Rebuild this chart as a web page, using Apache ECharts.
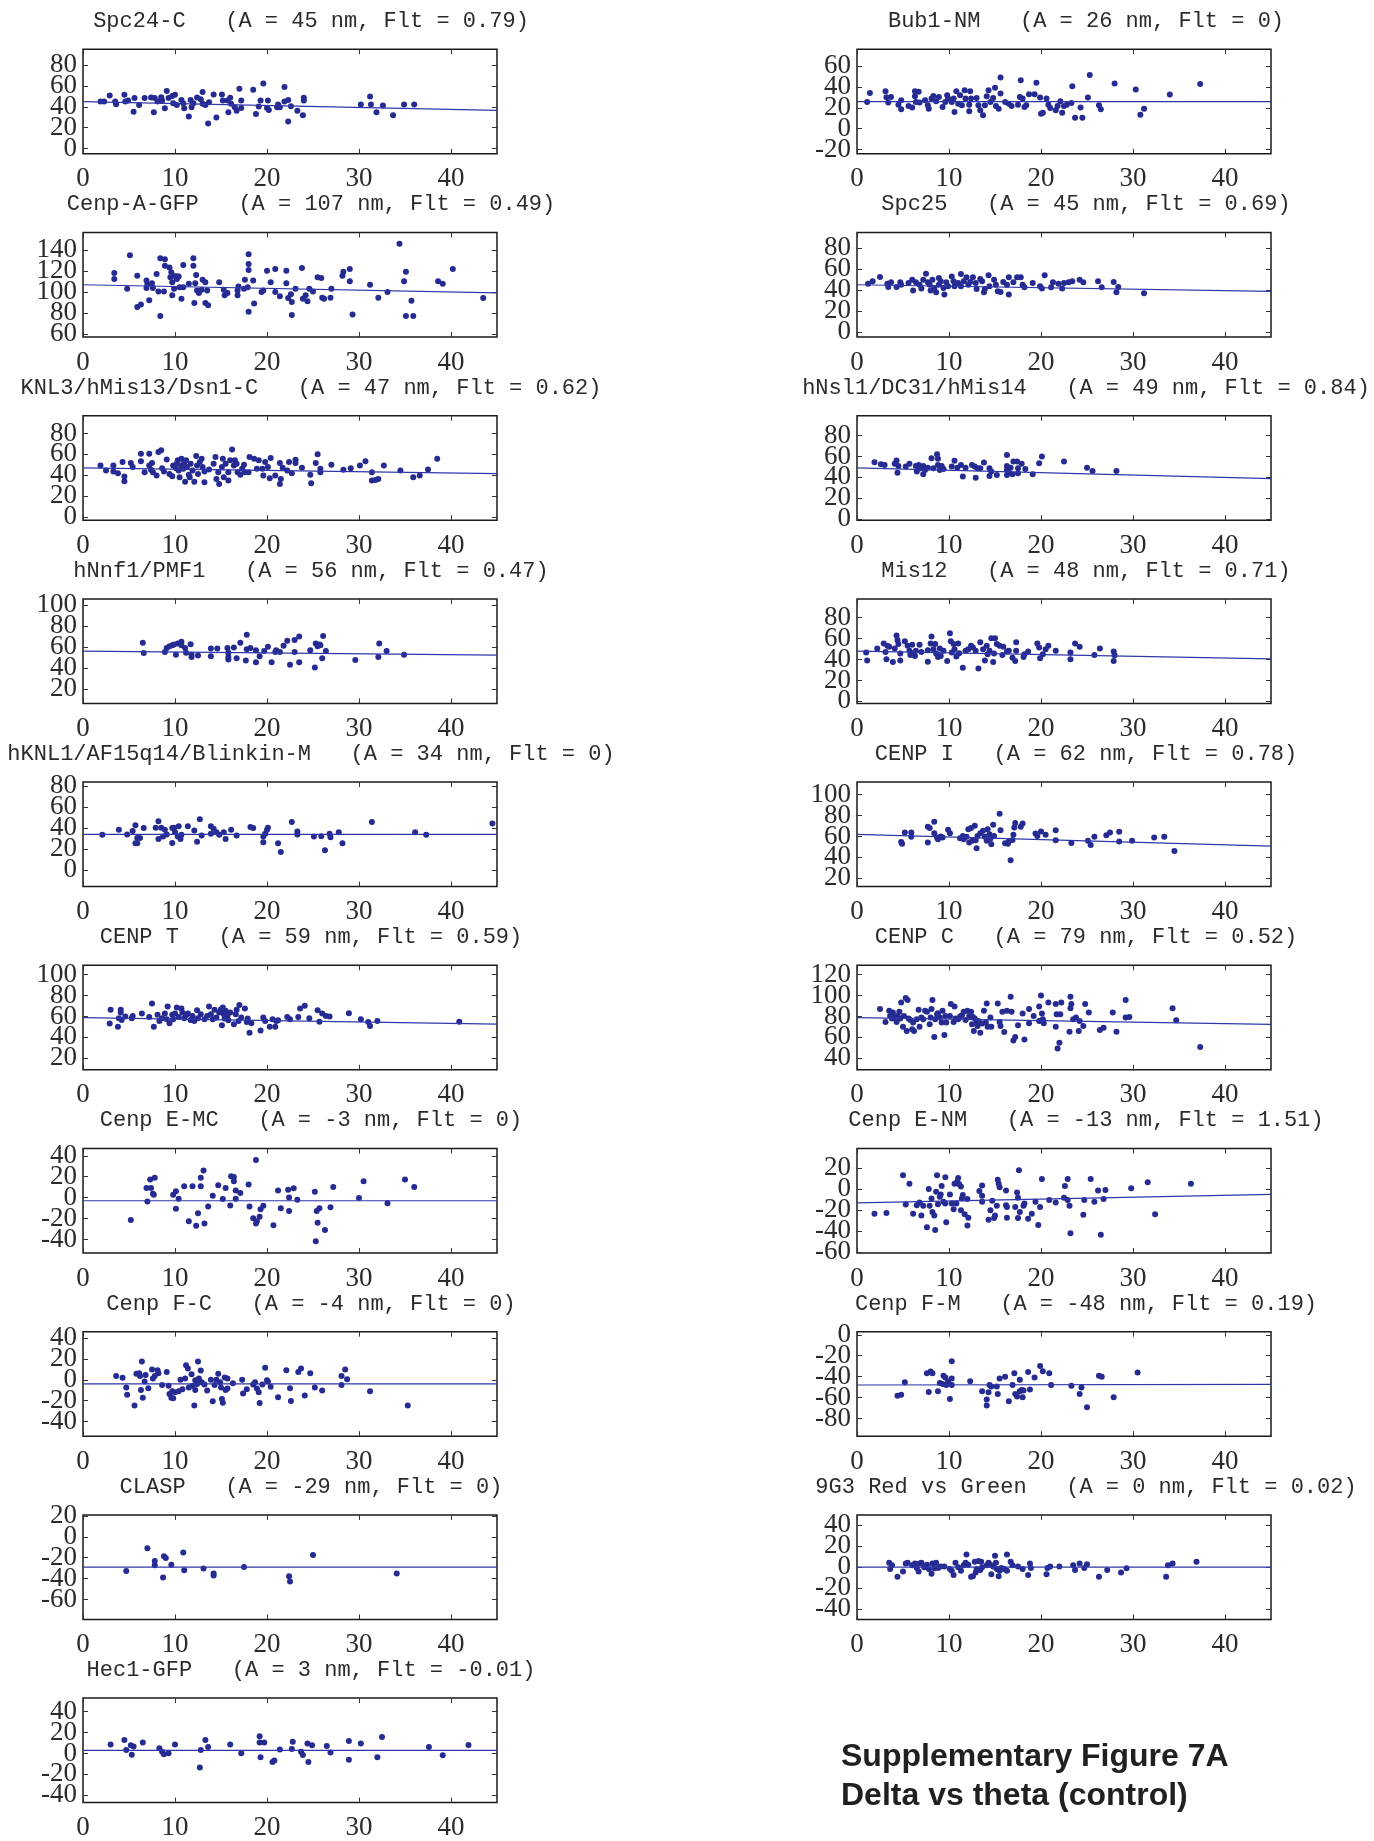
<!DOCTYPE html>
<html>
<head>
<meta charset="utf-8">
<script src="https://cdn.jsdelivr.net/npm/echarts@6/dist/echarts.min.js"></script>
<style>
  html, body { margin: 0; padding: 0; background: #fff; }
  #chart { width: 1374px; height: 1841px; }
</style>
</head>
<body>
<div id="chart"></div>
<script>
// ---- panel data: [theta, delta] ----
const spc24C = [[1.9,45],[2.3,45],[2.9,50.8],[3.5,45],[3.6,42.4],[4.5,51.5],[4.6,45],[4.9,46],[5.5,35.3],[5.6,48.3],[6.1,41.8],[6.7,48.3],[7.4,48.9],[7.7,34.7],[7.8,48.3],[8.1,45],[8.5,49.2],[8.6,46],[8.9,38.5],[9.1,55.1],[9.3,48.3],[9.7,50.2],[10.0,51.5],[9.8,43.4],[10.2,41.8],[10.7,46.6],[10.9,43.4],[11.0,38.5],[11.5,30.8],[11.7,46.6],[11.8,39.5],[12.0,43.4],[12.4,48.9],[12.8,47.3],[13.0,54.1],[13.0,42.8],[13.3,41.8],[13.6,24],[13.7,44.4],[14.2,51.8],[14.5,29.8],[15.1,51.8],[15.2,46],[15.7,46],[15.8,34.7],[16.0,48.6],[16.1,42.8],[16.5,39.5],[16.7,36.3],[17.0,57.3],[17.2,46],[17.2,38.9],[18.5,56.4],[18.8,33],[19.1,40.2],[19.3,46],[19.6,62.2],[20.0,38.9],[20.1,46],[20.2,36.9],[21.1,39.5],[21.2,42.1],[21.4,39.5],[21.9,59],[21.9,45],[22.3,46.6],[22.3,25.9],[22.6,40.5],[23.3,36.3],[23.9,32],[24.0,48.6],[24.0,46],[30.2,42.1],[31.2,49.9],[31.3,42.1],[31.9,34.7],[32.6,41.2],[33.7,32],[34.9,42.1],[36.0,42.1]];
const cenpAGFP = [[3.4,118.3],[3.4,112.6],[4.8,103.1],[5.1,135.3],[5.9,115.7],[5.9,85.8],[6.3,88],[6.9,111],[6.9,104],[7.0,107.2],[7.2,92.1],[7.5,108.5],[7.6,104],[8.0,117.3],[8.2,100.6],[8.4,132.4],[8.4,77],[8.8,100.6],[8.9,131.5],[8.9,125.2],[9.4,123.6],[9.5,114.2],[9.6,118.9],[9.7,109.4],[9.7,96.9],[9.8,115.7],[9.9,103.1],[10.2,115.1],[10.2,112.6],[10.4,114.8],[10.5,104.7],[10.7,93.7],[10.9,104.7],[10.9,125.8],[11.5,107.9],[12.0,132.4],[12.0,125.2],[12.1,89.6],[12.2,108.5],[12.3,116.4],[12.4,101.6],[12.6,99],[12.9,102.2],[13.0,111.7],[13.3,109.4],[13.3,89.6],[13.5,101.6],[13.6,87.4],[14.8,109.4],[15.3,102.2],[15.4,96.9],[15.7,99],[16.8,96.9],[16.8,101.6],[16.9,105.4],[17.5,103.1],[17.6,111.7],[17.9,104.7],[18.0,136.2],[18.0,126.8],[18.0,121.1],[18.0,81.1],[18.5,111],[18.6,89],[19.4,100],[19.6,101.6],[20.0,120.5],[20.4,109.4],[20.9,122],[20.9,100],[21.4,95.9],[22.1,120.5],[22.1,108.5],[22.3,94.3],[22.6,97.8],[22.7,90.6],[22.7,78],[23.1,103.1],[23.8,123],[23.9,93.7],[24.2,96.9],[24.4,91.2],[24.6,103.1],[25.0,100.6],[25.5,114.2],[25.9,113.5],[26.0,94.6],[26.2,93.7],[27.0,103.1],[26.9,94.6],[28.2,115.7],[28.3,119.5],[29.0,122],[29.0,110.4],[29.3,78.6],[31.2,106.9],[32.1,94.6],[33.1,100],[34.4,146.3],[34.9,110.4],[35.1,119.5],[35.1,77],[35.7,91.8],[35.9,77],[38.6,110.4],[39.1,107.9],[40.2,122],[43.5,94.3]];
const knl3Dsn1C = [[1.9,49.4],[2.5,44.6],[3.3,49.4],[3.3,43.6],[3.8,42],[4.3,52.7],[4.5,38.8],[4.5,34.2],[5.2,51.7],[5.4,47.8],[6.3,60.7],[6.3,53.3],[6.7,42.9],[7.2,60.7],[7.2,49.4],[7.4,45.2],[7.5,51.7],[7.6,42.9],[8.0,39.7],[8.2,62.3],[8.5,64],[8.6,46.8],[8.8,43.6],[9.1,55.2],[9.4,41.3],[9.7,39],[9.8,49.4],[10.1,46.8],[10.2,51],[10.3,54.3],[10.4,44.6],[10.5,38.1],[10.7,55.9],[10.7,49.4],[10.9,46.2],[11.0,51.7],[11.1,33.9],[11.2,54.3],[11.3,47.8],[11.5,40.4],[11.6,38.1],[11.7,51],[11.9,44.6],[12.1,33.9],[12.3,58.5],[12.4,49.4],[12.5,41.3],[12.7,52.7],[12.9,55.9],[13.0,47.8],[13.2,33.2],[13.2,43.6],[13.7,45.5],[14.2,51],[14.4,57.5],[14.5,36.4],[14.7,42.9],[14.8,31.6],[15.1,47.8],[15.2,55.9],[15.3,38.1],[15.5,51],[15.8,34.9],[15.8,42.9],[16.0,54.3],[16.2,64.6],[16.4,49.4],[16.5,54.3],[16.7,51],[16.8,42.9],[17.1,40.4],[17.3,46.2],[17.5,50.1],[17.6,42.9],[18.0,42.9],[18.1,57.5],[18.6,55.9],[18.9,46.2],[19.1,54.3],[19.5,46.2],[19.6,39.7],[19.8,52.7],[20.1,47.8],[20.3,37.1],[20.4,56.5],[20.9,39.7],[21.4,51.7],[21.4,31.6],[21.5,36.4],[21.7,47.2],[22.2,44.6],[22.4,52.7],[22.7,42],[23.1,54.9],[23.1,51.7],[23.8,47.2],[24.7,40.4],[24.8,32.3],[25.3,51.7],[25.5,60.1],[25.8,46.2],[25.8,42.9],[27.0,50.1],[28.3,45.2],[29.1,46.8],[30.1,49.4],[30.7,53.3],[31.4,42.9],[31.4,34.9],[31.8,35.5],[32.1,36.4],[32.7,49.4],[34.5,44.6],[35.9,38.1],[36.6,39.7],[37.5,45.5],[38.5,55.9]];
const hNnf1PMF1 = [[6.5,64],[6.6,54.2],[8.9,55.2],[9.1,59.1],[9.4,60.8],[9.7,61.7],[9.9,62.4],[10.1,52.6],[10.3,63.4],[10.7,65],[10.7,61.7],[11.1,59.1],[11.2,54.5],[11.7,62.7],[11.8,52.6],[11.8,50.3],[12.5,51.9],[13.9,51.2],[13.9,58.5],[14.6,58.5],[15.7,59.1],[15.8,54.5],[15.8,50.3],[15.8,48],[16.4,59.5],[16.7,49.3],[17.1,64],[17.7,47],[17.8,71.6],[17.8,57.8],[18.2,59.1],[18.8,56.8],[18.8,45.3],[19.2,51.2],[19.7,56.2],[20.1,60.1],[20.5,45.3],[20.9,55.2],[21.0,56.8],[21.4,55.2],[21.8,61.1],[22.2,66],[22.5,43],[23.0,66.7],[23.0,55.2],[23.5,69.9],[23.5,45.3],[24.7,56.8],[25.2,40.4],[25.3,63.4],[25.5,60.8],[25.7,62.4],[25.8,61.7],[26.0,49.3],[26.1,70.6],[26.4,56.2],[29.6,47.6],[32.1,50.3],[32.2,63.4],[33.0,56.2],[34.9,52.6]];
const hKNL1Blinkin = [[2.1,33.5],[3.9,38.4],[4.8,33.9],[5.4,37.1],[5.7,42.6],[5.7,25.4],[5.9,25.4],[5.9,30.6],[6.2,30.6],[6.6,40],[7.9,40.4],[8.2,46.5],[8.2,29.6],[8.5,40.4],[8.7,31.9],[8.9,38.4],[9.1,33.9],[9.7,40],[9.7,25.7],[9.9,40.4],[10.0,36.1],[10.3,31.9],[10.4,41.7],[10.6,29.6],[10.7,33.5],[11.4,41.7],[12.1,37.8],[12.4,27],[12.7,48.5],[12.9,32.9],[13.9,41.7],[13.9,34.5],[14.2,39.4],[14.5,36.1],[14.8,33.5],[15.3,36.1],[15.5,29.6],[16.1,38.4],[16.7,32.9],[18.2,41],[18.5,40],[19.6,31.9],[19.8,34.5],[20.0,38.4],[20.1,40.4],[19.6,26.4],[21.2,25.4],[21.5,17.2],[22.7,45.9],[23.3,36.8],[23.3,33.9],[25.1,31.9],[25.9,32.3],[26.3,18.9],[26.8,34.5],[26.9,31.3],[27.8,36.1],[28.2,25.4],[31.4,45.9],[36.1,36.1],[37.3,33.5],[44.5,44.3]];
const cenpT = [[3.0,66.4],[2.9,53.2],[3.8,50.3],[3.9,58.4],[4.1,66.4],[4.1,63.8],[4.2,56.7],[4.6,60],[5.3,58.4],[5.4,60.6],[6.4,62.9],[7.2,59.6],[7.5,72.5],[7.7,50.3],[8.1,61.6],[8.3,55.8],[8.6,58.4],[8.9,62.9],[9.1,57.4],[9.2,69.6],[9.4,53.5],[9.7,61.6],[9.8,57.4],[10.0,62.9],[10.2,68.6],[10.4,59.6],[10.7,67.7],[10.8,63.8],[11.0,58.4],[11.2,61.3],[11.4,62.9],[11.7,56.7],[11.9,60.6],[12.1,55.8],[12.4,66.1],[12.5,58.4],[12.8,62.2],[13.2,57.4],[13.5,60.6],[13.7,69.6],[13.9,62.2],[14.1,57.4],[14.3,66.4],[14.5,59],[14.8,63.8],[15.0,67],[15.1,51.6],[15.2,68.6],[15.3,62.2],[15.4,58.1],[15.5,65.5],[15.7,60.6],[15.8,56.4],[16.0,63.8],[16.4,52.5],[16.6,62.2],[16.7,66.4],[16.9,55.8],[17.0,70.9],[17.2,59],[17.6,67.7],[17.8,54.8],[17.9,58.1],[18.1,44.5],[18.3,53.5],[19.3,46.7],[19.6,59],[19.8,55.8],[20.3,50.3],[20.6,57.4],[20.9,50.3],[21.0,55.8],[21.2,56.4],[22.2,59.6],[22.5,57.4],[23.4,59.6],[23.6,67.7],[24.1,70.3],[24.6,58.4],[25.5,66.1],[25.7,55.1],[26.0,62.9],[26.4,60.6],[26.8,60],[28.9,63.2],[30.2,57.4],[31.0,54.8],[31.2,50.9],[32.0,55.8],[40.9,55.1]];
const cenpEMC = [[5.2,-21.4],[6.9,9.3],[7.0,-3.6],[7.3,17.3],[7.4,9.3],[7.6,3.8],[7.7,2.8],[7.8,18.9],[9.8,2.8],[10.1,6],[10.1,-10.7],[10.4,-1.1],[11.0,10.9],[11.5,-22.5],[11.9,10.9],[12.3,-27],[12.5,-15],[12.8,10.9],[12.8,18.9],[13.1,26],[13.2,-24.7],[13.6,-8.5],[14.1,1.8],[14.7,11.8],[15.2,-1.4],[15.5,9.3],[16.0,-7.5],[16.1,20.5],[16.4,15.6],[16.4,19.8],[16.6,-1.1],[16.6,6.7],[17.1,4.4],[18.0,12.5],[18.1,-8.5],[18.5,-19.8],[18.8,-24.7],[18.8,36],[18.9,-22.5],[19.2,-18.3],[19.3,-11.2],[19.6,-7.8],[20.7,-26.4],[21.2,6.7],[21.5,-10.2],[22.3,7.6],[22.4,0.2],[22.4,-12.7],[22.9,8.9],[23.3,-2],[25.2,5.7],[25.4,-12.7],[25.5,-24],[25.7,-10.2],[25.3,-41.7],[26.3,-30.9],[26.9,-9.2],[27.2,10.2],[30.0,-0.4],[30.5,15.7],[33.1,-5.4],[35.0,17.3],[36.0,10.2]];
const cenpFC = [[3.6,3.6],[4.3,1.9],[4.7,-7.4],[4.8,-14.3],[5.6,-24.6],[5.8,5.7],[6.1,6.3],[6.2,3.6],[6.3,-9.8],[6.4,17.4],[6.5,-17.1],[6.7,-1.6],[6.8,4.6],[7.1,-8.1],[7.5,9.8],[7.6,1.2],[7.8,3.6],[8.1,9.1],[8.2,6.3],[8.6,-5],[9.1,7.4],[9.3,-5.7],[9.4,-13.6],[9.6,-17.1],[9.7,-10.9],[9.8,-17.8],[10.0,-11.9],[10.4,-10.9],[10.6,0.1],[10.8,-9.1],[11.1,1.2],[11.2,13.9],[11.4,10.8],[11.5,-7.4],[11.8,5.3],[11.9,-5.7],[12.1,-24.6],[12.2,-0.5],[12.2,-9.8],[12.4,-4],[12.5,17.4],[12.6,1.2],[12.8,8.8],[12.9,-2.3],[13.2,-4.6],[13.5,-10.2],[13.9,0.1],[14.1,-20.5],[14.3,-5],[14.5,0.1],[14.7,5.7],[14.9,-2.3],[15.0,-7.4],[15.1,-18.4],[15.2,-21.9],[15.4,2.2],[15.5,-9.8],[15.7,1.2],[15.7,-8.4],[16.3,-3.3],[17.3,0.1],[17.4,-13.2],[17.8,-9.1],[18.5,-4.6],[18.7,-2.3],[18.9,-8.4],[19.1,-11.9],[19.2,-22.3],[19.5,-4.6],[19.8,11.5],[20.0,-0.5],[20.1,-1.6],[20.4,-6.7],[21.2,-16.7],[22.1,9.1],[22.5,-8.1],[22.6,-20.2],[23.4,7.4],[23.7,10.8],[24.1,-15],[24.7,6.3],[25.2,-7.4],[26.0,-10.2],[28.1,3.6],[28.1,-5],[28.5,9.8],[28.7,0.5],[31.2,-10.9],[35.3,-24.6]];
const clasp = [[4.7,-32.8],[7.0,-11],[7.8,-23.1],[7.8,-27.2],[8.8,-18.6],[9.0,-20.3],[8.7,-39],[9.6,-26.6],[10.9,-15.1],[11.0,-32],[13.1,-30.3],[14.2,-35.1],[14.2,-36.9],[17.5,-28.9],[22.4,-37.6],[22.5,-42.8],[25.0,-17.3],[34.1,-35.1]];
const hec1GFP = [[3.0,8.5],[4.5,12.9],[4.7,3.4],[5.2,7.8],[5.3,-1.1],[5.5,6.8],[6.5,10.5],[8.3,5.1],[8.6,1.6],[8.8,-0.8],[9.3,0.3],[10.0,8.5],[12.7,-13.3],[12.8,3.4],[13.3,12.9],[13.6,6.1],[16.0,8.5],[17.2,0.3],[19.2,16.4],[19.2,10.5],[19.3,-3.5],[19.7,10.5],[20.6,-8.2],[20.8,-6.6],[21.4,3.7],[22.7,4.4],[22.8,11.2],[23.7,1.6],[23.9,-1.4],[24.4,9.5],[24.5,-8.2],[24.9,7.8],[26.5,7.1],[26.9,1],[28.9,11.9],[28.9,-5.9],[30.2,9.5],[32.0,-3.5],[32.5,15.7],[37.6,6.1],[39.1,-1.8],[41.9,8.2]];
const bub1NM = [[1.1,25.6],[1.4,34.3],[3.1,35.9],[3.2,30.1],[3.4,25],[3.7,30.4],[4.5,23],[4.8,27.2],[4.8,18.6],[5.6,21.8],[6.0,20.2],[6.3,35.9],[6.3,31.1],[6.4,25.6],[6.7,35.3],[6.8,25],[7.4,27.2],[7.7,22.4],[7.8,19.2],[8.1,28.8],[8.3,31.4],[8.6,26.3],[8.9,30.4],[9.3,20.8],[9.6,25.6],[9.8,32],[9.9,28.8],[10.3,25.6],[10.5,28.8],[10.6,16],[10.8,35.9],[11.0,24],[11.2,32],[11.4,22.4],[11.7,36.9],[11.8,28.8],[12.2,23],[12.2,16.6],[12.3,35.9],[12.4,28.8],[13.0,29.5],[13.2,22.4],[13.4,17.6],[13.7,12.8],[13.9,22.4],[14.1,31.1],[14.3,36.9],[14.5,25.6],[14.8,29.5],[15.0,39.1],[15.1,21.8],[15.4,19.2],[15.6,33.7],[15.6,49.1],[16.1,25.6],[16.5,24],[16.8,21.8],[17.5,23],[17.7,30.4],[17.8,46.5],[18.0,28.8],[18.2,20.8],[18.4,22.4],[18.7,33],[19.3,33],[19.5,43.9],[19.9,29.8],[20.0,14.4],[20.2,15.3],[20.6,28.8],[20.8,23],[21.0,19.8],[21.6,17.6],[21.8,21.8],[22.1,26.3],[22.3,15.3],[22.5,21.8],[22.8,23],[23.3,24.7],[23.4,40.7],[23.7,10.5],[24.3,20.2],[24.5,10.5],[25.1,29.8],[25.3,51.3],[26.3,22.4],[26.5,18.6],[28.0,43.3],[30.3,37.5],[30.8,13.4],[31.2,19.2],[34.0,32.7],[37.3,42.7]];
const spc25 = [[1.2,46],[1.7,48.3],[2.5,52.4],[3.3,46],[3.4,42.9],[3.7,47.3],[4.3,42.9],[4.7,47.3],[4.8,45.1],[5.6,46.7],[6.0,49.8],[6.1,39.4],[6.4,47.3],[6.8,45.1],[7.0,41.3],[7.2,49.8],[7.5,55.6],[7.7,47.3],[7.9,45.1],[8.0,39.4],[8.2,49.8],[8.4,41.9],[8.6,37.8],[8.9,45.1],[8.9,51.4],[9.1,48.3],[9.4,41.9],[9.5,35.6],[9.7,47.3],[9.9,43.5],[10.3,53],[10.5,48.3],[10.6,43.5],[11.0,46.7],[11.3,55.2],[11.3,43.5],[11.6,48.3],[11.9,52.1],[12.1,45.1],[12.3,47.6],[12.6,52.1],[12.9,46.7],[13.0,41],[13.4,50.5],[13.6,48.3],[13.8,37.8],[13.9,41],[14.3,54],[14.4,43.5],[14.9,49.8],[15.1,45.1],[15.3,38.7],[15.6,38.1],[15.9,47.6],[16.3,45.1],[16.5,52.1],[16.5,35.6],[17.0,47.3],[17.4,52.1],[17.8,52.1],[18.0,45.1],[18.2,42.5],[19.1,46.7],[19.9,43.5],[20.1,41.3],[20.4,54],[21.1,42.5],[21.3,47.3],[21.9,46],[22.3,41.3],[22.5,46.7],[23.0,47.3],[23.4,48.3],[24.2,49.8],[24.6,47.3],[26.2,48.3],[26.6,42.5],[27.9,47.6],[28.2,37.8],[28.4,42.9],[31.2,36.8]];
const hNsl1DC31 = [[1.9,54.5],[2.6,52.5],[3.0,51.9],[4.1,52.9],[4.3,56.1],[4.4,44.5],[4.5,50.9],[5.3,50.3],[5.7,52.9],[6.4,50.9],[6.5,45.5],[6.7,51.9],[6.9,48.7],[7.2,50.9],[7.2,42.9],[7.4,47.1],[7.7,49.3],[8.1,58.3],[8.3,48.7],[8.7,62.1],[8.8,51.9],[8.8,57.7],[9.0,47.1],[9.2,50.9],[9.4,48.1],[10.3,50.3],[10.6,55.8],[10.9,49.3],[11.3,51.9],[11.5,40.7],[11.8,49.3],[12.5,51.9],[12.8,50.3],[12.9,39.7],[13.1,48.7],[13.4,48.7],[13.8,54.1],[14.4,48.7],[14.4,41.3],[14.6,45.5],[15.2,42.3],[16.3,61.5],[16.3,50.9],[16.3,47.1],[16.3,42.3],[16.5,44.8],[16.7,49.3],[16.9,42.9],[17.0,55.1],[17.4,55.1],[17.5,48.7],[17.5,43.9],[17.9,52.9],[18.3,48.1],[19.1,42.9],[19.8,53.5],[20.1,59.9],[22.5,55.1],[25.0,49.3],[25.6,46.1],[28.2,46.1]];
const mis12 = [[1.0,46.6],[1.1,39.1],[2.2,50.6],[2.9,55.4],[3.1,47.3],[3.3,53.2],[3.2,40.2],[3.5,52.2],[3.9,37.6],[4.1,50.6],[4.3,62.9],[4.4,58.7],[4.5,54.8],[4.7,45.7],[4.7,39.1],[5.2,57.4],[5.5,53.2],[5.7,48.3],[5.8,44.4],[6.0,54.2],[6.1,46],[6.3,43.4],[6.4,48.3],[6.8,54.2],[7.0,47.3],[7.7,37.9],[7.7,48.9],[8.0,55.4],[8.1,61.9],[8.3,49.9],[8.5,54.8],[8.6,45.7],[8.8,42.5],[9.0,50.6],[9.1,43.4],[9.4,48.3],[9.8,38.5],[10.1,65.2],[10.2,57.4],[10.3,46.7],[10.5,54.8],[10.6,49.9],[10.8,42.8],[11.0,55.4],[11.1,46],[11.5,32],[11.8,48.3],[12.1,49.9],[12.4,53.2],[12.6,51.6],[12.9,48.3],[13.2,31.4],[13.4,56.4],[13.7,49.9],[13.9,39.1],[14.1,53.2],[14.2,45],[14.4,48.3],[14.6,60.3],[14.8,37.6],[14.9,45.7],[15.0,60.3],[15.2,54.8],[15.5,53.2],[15.8,44.4],[15.9,52.2],[16.3,47.6],[16.5,48.3],[16.9,41.8],[17.2,38.5],[17.3,56.4],[17.3,48.3],[18.1,42.5],[18.2,45],[18.6,47.6],[19.6,55.4],[19.8,51.6],[19.9,41.2],[20.2,45],[20.5,49.9],[20.8,53.2],[21.6,48.3],[23.2,46.7],[23.2,40.2],[23.7,55.4],[24.2,52.2],[25.8,44.4],[26.4,50.6],[27.9,47.6],[27.9,38.5],[28.0,44.1]];
const cenpI = [[4.8,54.7],[4.9,53.1],[5.2,63.8],[5.9,63.8],[5.9,59.6],[7.7,69.3],[7.7,54.1],[7.9,68],[8.4,74.1],[8.4,63.1],[8.7,58.9],[8.8,57.3],[9.1,59.9],[9.3,58.9],[9.9,66.4],[10.1,63.1],[11.2,58.3],[11.5,60.5],[11.6,57.3],[11.9,59.6],[12.1,67],[12.2,54.1],[12.4,68],[12.5,55.8],[12.8,70.3],[12.9,56.4],[13.0,48.6],[13.1,60.5],[13.4,63.1],[13.7,65.4],[13.9,59.6],[14.1,55.8],[14.2,67],[14.4,62.2],[14.5,57.9],[14.6,52.5],[14.8,71.2],[14.9,60.5],[15.5,81.6],[15.6,66],[16.1,53.4],[16.4,53.1],[16.5,55.1],[16.7,37.2],[16.9,56.7],[17.0,61.5],[17.1,68.6],[17.2,72.8],[17.8,69.3],[18.0,72.5],[19.4,62.8],[19.6,60.5],[20.0,64.8],[20.5,61.5],[21.6,66],[21.6,56.4],[23.3,53.7],[25.1,55.8],[25.4,51.9],[25.8,59.6],[27.1,61.2],[27.5,63.8],[28.5,64.4],[28.5,55.1],[29.9,55.8],[32.3,58.9],[33.4,59.6],[34.5,46]];
const cenpC = [[2.5,87.1],[3.1,74.8],[3.5,85.5],[3.6,80.6],[3.8,78],[3.9,83.8],[4.1,79],[4.3,74.8],[4.4,80.6],[4.6,84.5],[4.7,78],[4.8,93.5],[5.0,70.3],[5.1,80.6],[5.3,97.7],[5.4,66.1],[5.5,95.8],[5.6,78],[5.8,76.7],[6.0,67.7],[6.1,74.2],[6.2,66.1],[6.5,77.4],[6.7,86.4],[6.8,70.3],[7.0,79],[7.2,77.4],[7.4,85.5],[7.6,84.5],[7.9,72.6],[8.0,79],[8.1,87.1],[8.2,95.8],[8.4,60.3],[8.5,77.4],[8.7,82.2],[8.8,83.2],[9.0,79],[9.2,74.2],[9.3,85.5],[9.5,62.2],[9.6,80.6],[9.7,74.2],[10.1,80.6],[10.2,91.9],[10.5,74.8],[10.6,89.6],[10.7,78],[11.0,77.4],[11.2,80],[11.4,81.3],[11.6,84.5],[11.8,76.7],[12.0,85.5],[12.2,80.6],[12.4,84.5],[12.5,72.6],[12.6,79.6],[12.7,66.1],[12.8,78],[13.0,74.2],[13.1,70.9],[13.2,75.8],[13.4,64.5],[13.6,73.2],[13.8,85.5],[14.0,74.2],[14.1,92.5],[14.2,70.3],[14.5,79],[14.6,70.3],[15.3,92.5],[15.5,74.8],[15.6,70.9],[15.8,84.5],[16.0,65.1],[16.3,85.5],[16.7,99],[16.8,84.5],[17.0,57],[17.2,60.3],[17.5,71.6],[18.0,82.9],[18.2,58],[18.7,73.5],[18.7,87.1],[19.2,80.6],[19.8,89.6],[19.8,75.8],[20.0,100],[20.1,82.9],[20.2,77.4],[20.3,73.5],[20.8,93.5],[21.6,70.3],[21.6,91.9],[21.7,82.2],[21.8,49.3],[22.0,54.8],[22.1,82.2],[22.2,93.5],[23.1,65.5],[23.2,88],[23.2,99],[23.3,91.9],[23.5,77.4],[23.8,79],[24.1,66.1],[24.2,75.8],[24.6,70.9],[24.8,91.9],[25.2,83.8],[26.4,67.1],[26.8,69.3],[27.8,83.8],[28.2,65.5],[29.2,95.8],[29.2,79],[29.6,79.6],[34.3,88],[34.7,76.4],[37.3,50.9]];
const cenpENM = [[1.9,-23.4],[3.2,-22.7],[5.0,13.3],[5.3,-14.6],[5.7,5.2],[6.1,-23.4],[6.5,-15.3],[6.8,-12.7],[7.0,-25],[7.2,-15.9],[7.6,-36.4],[7.8,0.3],[7.9,-15.9],[8.1,-8.8],[8.2,-21.8],[8.4,-25],[8.5,-39],[8.6,-2.3],[8.7,13.3],[8.8,-14.3],[9.0,-7.1],[9.1,-4.9],[9.2,3.2],[9.4,-12],[9.6,-13.6],[9.6,11.4],[9.7,-31.5],[10.1,-4.9],[10.3,-13.6],[10.5,-19.2],[10.6,5.2],[10.8,-13.6],[10.9,7.5],[11.0,10.7],[11.1,4.9],[11.3,-20.1],[11.3,2.6],[11.4,-8.8],[11.5,-5.5],[11.7,-24],[12.0,-9.4],[12.1,-27.3],[12.0,-34.7],[13.3,-1.6],[13.6,-6.2],[13.6,3.6],[13.6,-12],[14.3,-29.2],[14.5,-20.1],[14.7,-11],[14.9,-27.6],[15.0,-25],[15.2,-15.9],[15.3,9.1],[15.4,5.2],[15.5,1.9],[16.2,-1.3],[16.2,-15.3],[16.3,-27.3],[16.3,-16.9],[17.2,-16.9],[17.4,-3.2],[17.5,-8.1],[17.6,18.2],[17.5,-27.6],[17.7,-21.8],[18.1,-15.9],[18.2,-13.6],[18.6,-28.2],[19.0,-23.4],[19.4,-12],[19.7,-34.1],[19.9,-16.9],[20.1,9.7],[20.9,-10.4],[21.6,-12.7],[22.5,-8.1],[22.6,3.2],[22.9,9.7],[22.9,-10.4],[23.1,-15.9],[23.2,-42.2],[24.6,-24.4],[24.7,-10.4],[25.4,9.7],[25.8,-12],[26.2,-1.3],[26.5,-43.5],[26.8,-9.4],[27.0,-0.6],[29.8,1],[31.6,6.8],[32.4,-24],[36.3,5.2]];
const cenpFM = [[4.4,-58.4],[4.8,-57.4],[5.2,-45.3],[7.6,-36.7],[7.8,-54.6],[8.0,-35],[8.2,-36.7],[8.8,-53.9],[9.0,-46],[9.3,-47],[9.4,-39.1],[9.6,-40.8],[9.7,-48.1],[9.9,-44.7],[10.1,-61.5],[10.3,-48.1],[10.3,-41.8],[10.3,-25.3],[12.3,-44.3],[13.6,-53.9],[14.1,-67.7],[14.1,-61.8],[14.3,-55],[14.4,-48.1],[14.6,-49.4],[15.2,-49.4],[15.3,-56.7],[15.5,-41.8],[16.1,-40.1],[16.5,-63.6],[16.9,-48.1],[17.1,-36.7],[17.2,-56.7],[17.4,-59.1],[17.7,-43.1],[17.7,-53.9],[17.9,-52.9],[18.0,-59.8],[18.1,-53.2],[18.6,-35.6],[18.8,-52.2],[19.3,-40.8],[19.9,-29.8],[20.2,-34.9],[20.9,-36.7],[21.1,-48.1],[23.3,-48.8],[24.2,-56.7],[24.4,-50.4],[25.0,-69.4],[26.3,-39.1],[26.6,-40.1],[27.9,-59.8],[30.5,-36]];
const redVsGreen9G3 = [[3.5,4.1],[3.6,-1.7],[3.8,1.7],[4.4,-9.3],[5.0,-4.1],[5.3,3.4],[5.5,4.1],[6.0,1.7],[6.3,3.4],[6.5,-0.7],[6.7,-4.1],[6.8,3.4],[7.0,4.1],[7.3,0],[7.6,2.4],[7.8,-1.7],[8.1,-6.2],[8.2,3.4],[8.4,-1],[8.6,4.1],[8.8,-0.7],[9.1,0.7],[9.5,0.7],[10.1,-1.7],[10.3,-3.4],[10.5,-7.6],[10.7,4.1],[11.0,0],[11.3,-3.4],[11.6,1.7],[11.8,4.1],[11.9,12.1],[12.1,2.4],[12.4,-9.3],[12.6,-8.6],[12.8,5.2],[12.9,-5.2],[13.0,-1.7],[13.2,5.9],[13.4,-2.8],[13.5,5.2],[13.6,0],[14.1,1.7],[14.3,4.1],[14.5,2.4],[14.6,-6.9],[14.8,0.7],[15.0,11],[15.1,4.1],[15.2,-1.7],[15.4,-8.6],[15.5,-3.4],[15.7,-0.7],[16.0,-1.7],[16.3,12.1],[16.3,-3.4],[16.7,5.2],[16.9,1.7],[17.5,0.7],[18.0,-1.7],[18.6,-7.6],[18.8,3.4],[18.9,-0.7],[20.6,-6.9],[20.7,-0.7],[21.0,0.7],[22.0,0.7],[23.5,1.7],[23.7,-2.8],[24.2,3.4],[24.7,-0.7],[25.0,2.8],[26.3,-9.3],[27.2,-2.8],[28.7,-5.2],[29.3,-1],[33.6,-9.3],[33.8,1.7],[34.3,3.4],[36.9,5.2]];

// ---- per-panel labels and fit parameters ----
const panelNames = ['Spc24-C','Cenp-A-GFP','KNL3/hMis13/Dsn1-C','hNnf1/PMF1','hKNL1/AF15q14/Blinkin-M','CENP T','Cenp E-MC','Cenp F-C','CLASP','Hec1-GFP',
                    'Bub1-NM','Spc25','hNsl1/DC31/hMis14','Mis12','CENP I','CENP C','Cenp E-NM','Cenp F-M','9G3 Red vs Green'];
const ampA   = [45,107,47,56,34,59,-3,-4,-29,3, 26,45,49,48,62,79,-13,-48,0];
const fltVal = ['0.79','0.49','0.62','0.47','0','0.59','0','0','0','-0.01', '0','0.69','0.84','0.71','0.78','0.52','1.51','0.19','0.02'];
// fitted curve value at theta = 45 (right edge)
const fitEnd = [36.6,99.2,41.5,52.2,34,52.8,-3,-4,-29,3, 26,38.6,38.7,40.7,50.7,72.5,-4.9,-47.5,0];
const yMin   = [-5,57,-3,6,-16,9,-53,-54,-79,-47, -24,-5,-1,-2,12,29,-61,-97,-50];
const yMax   = [95,157,97,106,84,109,47,46,21,53, 76,95,99,98,112,129,39,3,50];
const yTicks = [
  [0,20,40,60,80],[60,80,100,120,140],[0,20,40,60,80],[20,40,60,80,100],[0,20,40,60,80],
  [20,40,60,80,100],[-40,-20,0,20,40],[-40,-20,0,20,40],[-60,-40,-20,0,20],[-40,-20,0,20,40],
  [-20,0,20,40,60],[0,20,40,60,80],[0,20,40,60,80],[0,20,40,60,80],[20,40,60,80,100],
  [40,60,80,100,120],[-60,-40,-20,0,20],[-80,-60,-40,-20,0],[-40,-20,0,20,40]
];
const xTicks = [0,10,20,30,40];
const panelPoints = [spc24C,cenpAGFP,knl3Dsn1C,hNnf1PMF1,hKNL1Blinkin,cenpT,cenpEMC,cenpFC,clasp,hec1GFP,
                     bub1NM,spc25,hNsl1DC31,mis12,cenpI,cenpC,cenpENM,cenpFM,redVsGreen9G3];

const serif = "'Liberation Serif', 'DejaVu Serif', serif";
const mono = "'Liberation Mono', 'DejaVu Sans Mono', monospace";
const dotColor = '#262b92';
const lineColor = '#2f37a8';
const textColor = '#2b2b2b';

const grid = [], xAxis = [], yAxis = [], series = [], graphic = [];

panelPoints.forEach((pts, i) => {
  const col = i < 10 ? 0 : 1;
  const row = i < 10 ? i : i - 10;
  const left = col ? 857 : 83;
  const top = 49.3 + row * 183.2;
  grid.push({
    left: left, top: top, width: 414, height: 104.5,
    show: true, borderColor: '#1a1a1a', borderWidth: 1.5,
    backgroundColor: 'transparent', outerBoundsMode: 'none'
  });
  const tick = { inside: true, length: 5, interval: 0, lineStyle: { color: '#333', width: 1 } };
  const noLine = { show: false, onZero: false };
  const lbl = {
    fontFamily: serif, fontSize: 27, color: textColor,
    interval: 0, showMinLabel: true, showMaxLabel: true, hideOverlap: false
  };
  // labels of neighbouring ticks overlap a little, so they are split over two left axes
  const ticksA = yTicks[i].filter((v, k) => k % 2 === 0);
  const ticksB = yTicks[i].filter((v, k) => k % 2 === 1);
  const yBase = { gridIndex: i, type: 'value', min: yMin[i], max: yMax[i], axisLine: noLine, splitLine: { show: false } };

  xAxis.push({
    gridIndex: i, type: 'value', min: 0, max: 45, position: 'bottom',
    axisLine: noLine, splitLine: { show: false },
    axisTick: Object.assign({ customValues: xTicks }, tick),
    axisLabel: Object.assign({}, lbl, { customValues: xTicks, margin: 12 })
  });
  xAxis.push({
    gridIndex: i, type: 'value', min: 0, max: 45, position: 'top',
    axisLine: noLine, splitLine: { show: false },
    axisTick: Object.assign({ customValues: xTicks }, tick),
    axisLabel: { show: false }
  });
  yAxis.push(Object.assign({}, yBase, {
    position: 'left',
    axisTick: Object.assign({ customValues: yTicks[i] }, tick),
    axisLabel: Object.assign({}, lbl, { customValues: ticksA, margin: 6 })
  }));
  yAxis.push(Object.assign({}, yBase, {
    position: 'left', offset: 0,
    axisTick: { show: false },
    axisLabel: Object.assign({}, lbl, { customValues: ticksB, margin: 6 })
  }));
  yAxis.push(Object.assign({}, yBase, {
    position: 'right',
    axisTick: Object.assign({ customValues: yTicks[i] }, tick),
    axisLabel: { show: false }
  }));
  series.push({
    type: 'scatter', xAxisIndex: 2 * i, yAxisIndex: 3 * i,
    data: pts, symbolSize: 6, itemStyle: { color: dotColor, opacity: 1 }, silent: true
  });
  series.push({
    type: 'line', xAxisIndex: 2 * i, yAxisIndex: 3 * i,
    data: [[0, ampA[i]], [45, fitEnd[i]]], symbol: 'none', silent: true,
    lineStyle: { color: lineColor, width: 1.2 }
  });
  graphic.push({
    type: 'text', x: col ? 1086 : 311, y: top - 28,
    style: {
      text: panelNames[i] + '   (A = ' + ampA[i] + ' nm, Flt = ' + fltVal[i] + ')',
      font: '22px ' + mono, fill: textColor,
      textAlign: 'center', textVerticalAlign: 'middle'
    }
  });
});

graphic.push({
  type: 'text', x: 841, y: 1757,
  style: { text: 'Supplementary Figure 7A', font: 'bold 32px "Liberation Sans", Arial, sans-serif', fill: '#231f20', textVerticalAlign: 'middle' }
});
graphic.push({
  type: 'text', x: 841, y: 1796,
  style: { text: 'Delta vs theta (control)', font: 'bold 32px "Liberation Sans", Arial, sans-serif', fill: '#231f20', textVerticalAlign: 'middle' }
});

const chart = echarts.init(document.getElementById('chart'), null, { renderer: 'canvas' });
chart.setOption({
  animation: false,
  backgroundColor: '#fff',
  grid: grid,
  xAxis: xAxis,
  yAxis: yAxis,
  series: series,
  graphic: graphic
});
</script>
</body>
</html>
